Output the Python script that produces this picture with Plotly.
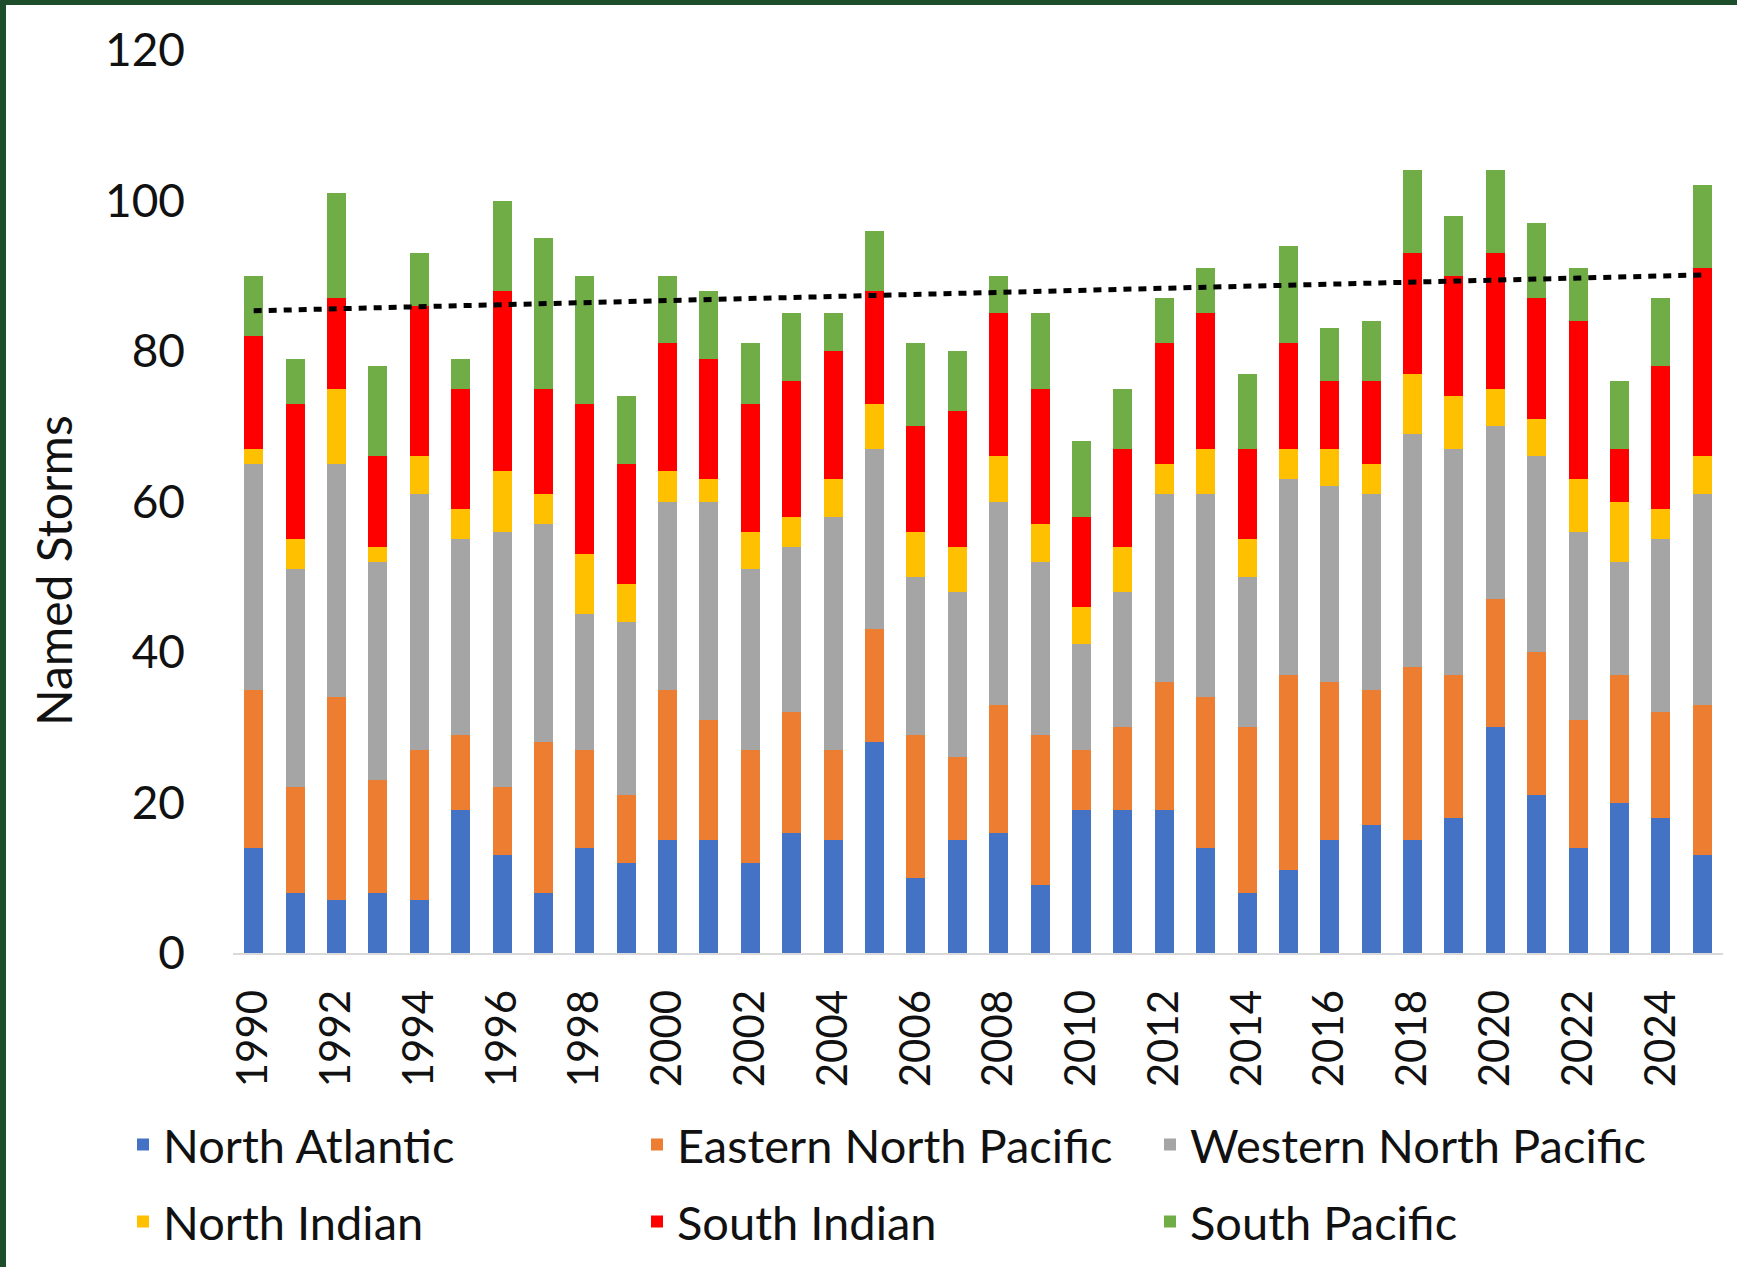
import numpy as np
import plotly.graph_objects as go

# Named storms per year by ocean basin, 1990-2025
years = [str(y) for y in range(1990, 2026)]

north_atlantic = [14, 8, 7, 8, 7, 19, 13, 8, 14, 12, 15, 15, 12, 16, 15, 28, 10, 15,
                  16, 9, 19, 19, 19, 14, 8, 11, 15, 17, 15, 18, 30, 21, 14, 20, 18, 13]
eastern_north_pacific = [21, 14, 27, 15, 20, 10, 9, 20, 13, 9, 20, 16, 15, 16, 12, 15, 19, 11,
                         17, 20, 8, 11, 17, 20, 22, 26, 21, 18, 23, 19, 17, 19, 17, 17, 14, 20]
western_north_pacific = [30, 29, 31, 29, 34, 26, 34, 29, 18, 23, 25, 29, 24, 22, 31, 24, 21, 22,
                         27, 23, 14, 18, 25, 27, 20, 26, 26, 26, 31, 30, 23, 26, 25, 15, 23, 28]
north_indian = [2, 4, 10, 2, 5, 4, 8, 4, 8, 5, 4, 3, 5, 4, 5, 6, 6, 6,
                6, 5, 5, 6, 4, 6, 5, 4, 5, 4, 8, 7, 5, 5, 7, 8, 4, 5]
south_indian = [15, 18, 12, 12, 20, 16, 24, 14, 20, 16, 17, 16, 17, 18, 17, 15, 14, 18,
                19, 18, 12, 13, 16, 18, 12, 14, 9, 11, 16, 16, 18, 16, 21, 7, 19, 25]
south_pacific = [8, 6, 14, 12, 7, 4, 12, 20, 17, 9, 9, 9, 8, 9, 5, 8, 11, 8,
                 5, 10, 10, 8, 6, 6, 10, 13, 7, 8, 11, 8, 11, 10, 7, 9, 9, 11]

series_names = ["North Atlantic", "Eastern North Pacific", "Western North Pacific",
                "North Indian", "South Indian", "South Pacific"]
series_values = [north_atlantic, eastern_north_pacific, western_north_pacific,
                 north_indian, south_indian, south_pacific]
series_colors = ["#4472C4", "#ED7D31", "#A5A5A5", "#FFC000", "#FF0000", "#70AD47"]

tick_years = [str(y) for y in range(1990, 2026, 2)]

FONT = "Lato, 'Open Sans', sans-serif"
TXT = "#111111"
W, H = 1737, 1267
ML, MR, MT, MB = 233, 14, 50, 314
PW, PH = W - ML - MR, H - MT - MB

fig = go.Figure()

# One single-entry legend per series, laid out as a 3 x 2 grid below the chart
legend_ids = ["legend"] + [f"legend{k}" for k in range(2, 7)]
col_x = [123, 637, 1150]
row_y = [1145, 1222]

for i, (name, vals, col) in enumerate(zip(series_names, series_values, series_colors)):
    fig.add_trace(go.Bar(
        x=years, y=vals, name=name,
        marker=dict(color=col, line=dict(width=0)),
        legend=legend_ids[i],
    ))

# Linear trend of the yearly totals
totals = np.sum(np.array(series_values), axis=0)
idx = np.arange(len(years))
slope, intercept = np.polyfit(idx, totals, 1)
fig.add_trace(go.Scatter(
    x=years, y=slope * idx + intercept, mode="lines",
    line=dict(color="black", width=5, dash="8px,7px"),
    showlegend=False, hoverinfo="skip",
))

legends = {}
for i, lid in enumerate(legend_ids):
    legends[lid] = dict(
        orientation="h", xref="container", yref="container",
        xanchor="left", yanchor="middle",
        x=col_x[i % 3] / W, y=1 - row_y[i // 3] / H,
        font=dict(family=FONT, size=47, color=TXT),
        bgcolor="rgba(0,0,0,0)",
    )

# Dark green frame along the top and left edges
x_left = -ML / PW
x_right = 1 + MR / PW
y_top = 1 + MT / PH
y_bottom = -MB / PH
frame = "#1E4D2B"

fig.update_layout(
    width=W, height=H,
    margin=dict(l=ML, r=MR, t=MT, b=MB, autoexpand=False),
    paper_bgcolor="white", plot_bgcolor="white",
    barmode="stack", bargap=0.54,
    font=dict(family=FONT, color=TXT),
    showlegend=True,
    xaxis=dict(
        type="category", range=[-0.5, len(years) - 0.5],
        tickmode="array", tickvals=tick_years, ticktext=tick_years,
        tickangle=-90, tickfont=dict(family=FONT, size=42, color=TXT),
        ticks="", ticklabelstandoff=18,
        showline=True, linecolor="#D9D9D9", linewidth=2,
        showgrid=False, zeroline=False, automargin=False,
    ),
    yaxis=dict(
        range=[0, 120], tickmode="linear", tick0=0, dtick=20,
        tickfont=dict(family=FONT, size=46, color=TXT),
        ticks="", ticklabelstandoff=47,
        showline=False, showgrid=False, zeroline=False, automargin=False,
    ),
    annotations=[
        dict(text="Named Storms", textangle=-90, showarrow=False,
             xref="paper", yref="paper", x=(53 - ML) / PW, y=1 - (571 - MT) / PH,
             xanchor="center", yanchor="middle",
             font=dict(family=FONT, size=48, color=TXT)),
    ],
    shapes=[
        dict(type="rect", xref="paper", yref="paper",
             x0=x_left, x1=x_right, y0=y_top - 5 / PH, y1=y_top,
             fillcolor=frame, line=dict(width=0), layer="above"),
        dict(type="rect", xref="paper", yref="paper",
             x0=x_left, x1=x_left + 6 / PW, y0=y_bottom, y1=y_top,
             fillcolor=frame, line=dict(width=0), layer="above"),
    ],
    **legends,
)

fig.write_html("out.html")
